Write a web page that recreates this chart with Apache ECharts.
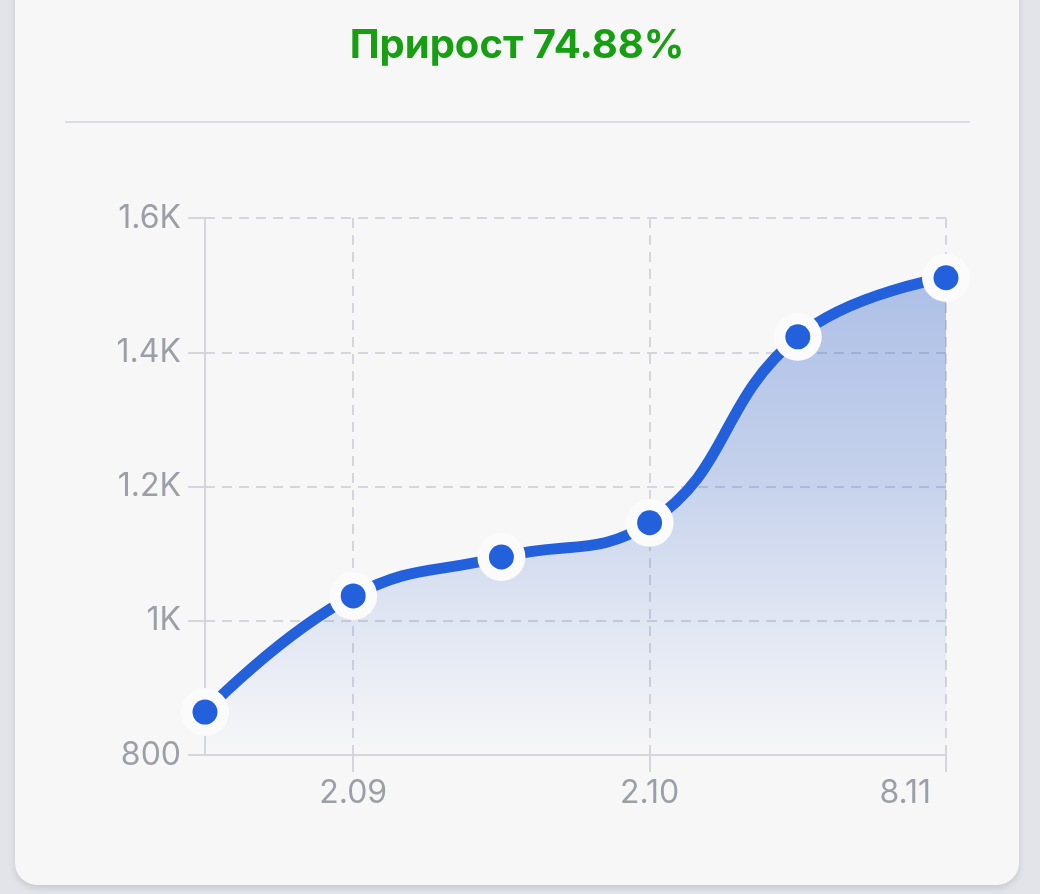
<!DOCTYPE html>
<html>
<head>
<meta charset="utf-8">
<script src="https://cdn.jsdelivr.net/npm/echarts@6/dist/echarts.min.js"></script>
<style>
html,body{margin:0;padding:0;background:#e3e4e9;}
#c{width:1040px;height:894px;}
</style>
</head>
<body>
<div id="c"></div>
<script>
var titleText = 'Прирост 74.88%';
var categories = ['18.08', '2.09', '17.09', '2.10', '20.10', '8.11'];
var values = [864, 1037, 1095, 1146, 1423, 1511];
var shownLabelIdx = [1, 3, 5];
var yMin = 800, yMax = 1600, yStep = 200;

var chart = echarts.init(document.getElementById('c'), null, {renderer: 'canvas'});
function showIdx(i) { return shownLabelIdx.indexOf(i) >= 0; }
var gridColor = '#d4d6dc';
var labelColor = '#9d9fa6';
var labelFont = 'Inter, Roboto, sans-serif';
var lastIdx = categories.length - 1;
var blue = '#2360dc';
var option = {
  backgroundColor: '#e3e4e9',
  animation: false,
  graphic: [
    {type: 'rect', z: -10, shape: {x: 15, y: -30, width: 1004, height: 915, r: 22},
     style: {fill: '#f7f7f8', shadowBlur: 6, shadowColor: 'rgba(0,0,0,0.12)', shadowOffsetY: 3}},
    {type: 'line', z: -5, shape: {x1: 65, y1: 122, x2: 970, y2: 122},
     style: {stroke: '#dcdde2', lineWidth: 2}},
    {type: 'text', x: 517, y: 46,
     style: {text: titleText, fill: '#189e12', align: 'center', verticalAlign: 'middle',
             font: 'bold 40px Inter, Roboto, sans-serif'}}
  ],
  grid: {left: 205, right: 94, top: 218, bottom: 139, containLabel: false},
  xAxis: {
    type: 'category',
    data: categories,
    boundaryGap: false,
    axisLine: {show: true, lineStyle: {color: gridColor, width: 2}},
    axisTick: {show: true, length: 17, interval: function (i) { return showIdx(i); }, lineStyle: {color: gridColor, width: 2}},
    axisLabel: {
      show: true, interval: function (i) { return showIdx(i); },
      color: labelColor, fontSize: 32, fontFamily: labelFont, margin: 22,
      alignMaxLabel: 'right',
      formatter: function (v, i) { return i === lastIdx ? '{last|' + v + '}' : v; },
      rich: {last: {color: labelColor, fontSize: 32, fontFamily: labelFont, padding: [0, 15, 0, 0]}}
    },
    splitLine: {show: true, interval: function (i) { return showIdx(i); }, lineStyle: {color: gridColor, width: 2, type: [10, 7]}}
  },
  yAxis: {
    type: 'value',
    min: yMin, max: yMax, interval: yStep,
    axisLine: {show: true, lineStyle: {color: gridColor, width: 2}},
    axisTick: {show: true, length: 17, lineStyle: {color: gridColor, width: 2}},
    axisLabel: {
      color: labelColor, fontSize: 32, fontFamily: labelFont, margin: 24,
      formatter: function (v) { return v >= 1000 ? (v / 1000) + 'K' : String(v); }
    },
    splitLine: {show: true, lineStyle: {color: gridColor, width: 2, type: [10, 7]}}
  },
  series: [{
    type: 'line',
    data: values,
    smooth: 0.45,
    showSymbol: false,
    lineStyle: {color: blue, width: 11},
    areaStyle: {
      color: new echarts.graphic.LinearGradient(0, 0, 0, 1, [
        {offset: 0, color: 'rgba(45,95,200,0.52)'},
        {offset: 0.4, color: 'rgba(45,95,200,0.36)'},
        {offset: 0.72, color: 'rgba(45,95,200,0.16)'},
        {offset: 1, color: 'rgba(45,95,200,0.0)'}
      ])
    },
    z: 3
  }, {
    type: 'scatter',
    data: values,
    symbol: 'circle',
    symbolSize: 48,
    itemStyle: {color: '#fbfbfc', opacity: 1},
    z: 4
  }, {
    type: 'scatter',
    data: values,
    symbol: 'circle',
    symbolSize: 25,
    itemStyle: {color: blue, opacity: 1},
    z: 5
  }]
};
chart.setOption(option);
</script>
</body>
</html>
